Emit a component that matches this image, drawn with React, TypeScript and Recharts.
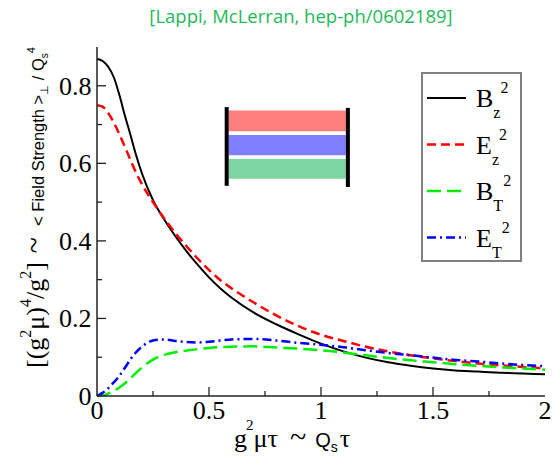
import React from "react";
import { LineChart, Line, XAxis, YAxis, Legend, ReferenceArea } from "recharts";

// tau grid (g^2 mu tau) and the four field-strength curves
const tau = [0, 0.025, 0.05, 0.075, 0.1, 0.125, 0.15, 0.175, 0.2, 0.25, 0.3, 0.35, 0.4, 0.45, 0.5, 0.55, 0.6, 0.7, 0.8, 0.9, 1.0, 1.1, 1.2, 1.3, 1.4, 1.5, 1.6, 1.7, 1.8, 1.9, 2.0];
const bz2 = [0.869, 0.864, 0.849, 0.822, 0.776, 0.722, 0.672, 0.62, 0.575, 0.505, 0.455, 0.412, 0.373, 0.338, 0.306, 0.278, 0.254, 0.215, 0.185, 0.159, 0.135, 0.115, 0.099, 0.087, 0.078, 0.071, 0.066, 0.063, 0.06, 0.058, 0.056];
const ez2 = [0.75, 0.746, 0.73, 0.705, 0.675, 0.642, 0.608, 0.575, 0.547, 0.5, 0.458, 0.42, 0.386, 0.354, 0.325, 0.299, 0.278, 0.241, 0.208, 0.18, 0.158, 0.142, 0.127, 0.115, 0.105, 0.097, 0.09, 0.084, 0.079, 0.075, 0.071];
const bt2 = [0, 0.001, 0.006, 0.013, 0.022, 0.033, 0.046, 0.06, 0.073, 0.094, 0.106, 0.113, 0.117, 0.121, 0.124, 0.126, 0.127, 0.128, 0.125, 0.122, 0.118, 0.112, 0.105, 0.098, 0.092, 0.087, 0.082, 0.078, 0.074, 0.071, 0.068];
const et2 = [0, 0.008, 0.02, 0.035, 0.052, 0.073, 0.095, 0.113, 0.127, 0.143, 0.146, 0.142, 0.139, 0.138, 0.14, 0.143, 0.146, 0.147, 0.143, 0.137, 0.132, 0.126, 0.118, 0.111, 0.105, 0.099, 0.093, 0.089, 0.084, 0.08, 0.077];

const xTicks = [0, 0.25, 0.5, 0.75, 1, 1.25, 1.5, 1.75, 2];
const yTicks = [0, 0.1, 0.2, 0.3, 0.4, 0.5, 0.6, 0.7, 0.8, 0.9];

// little capacitor sketch inside the plot (data units)
const insetBands = [
  { x1: 0.588, x2: 1.111, y1: 0.683, y2: 0.736, fill: "#ff7f7f" },
  { x1: 0.588, x2: 1.111, y1: 0.621, y2: 0.673, fill: "#7f7fff" },
  { x1: 0.588, x2: 1.111, y1: 0.56, y2: 0.611, fill: "#7fd6a5" },
  { x1: 0.57, x2: 0.588, y1: 0.542, y2: 0.745, fill: "#000" },
  { x1: 1.111, x2: 1.129, y1: 0.539, y2: 0.743, fill: "#000" }
];

const chartData = tau.map((t, i) => ({ tau: t, bz: bz2[i], ez: ez2[i], bt: bt2[i], et: et2[i] }));

const SERIF = "'Liberation Serif', 'DejaVu Serif', serif";
const SANS = "'Liberation Sans', Arial, sans-serif";
const FRAME = "#222";

const series = [
  { key: "bz", base: "B", sub: "z", color: "#000000", dash: undefined, width: 2 },
  { key: "ez", base: "E", sub: "z", color: "#ff0000", dash: "9 5", width: 2.5 },
  { key: "bt", base: "B", sub: "T", color: "#00ee00", dash: "14 6", width: 2.5 },
  { key: "et", base: "E", sub: "T", color: "#0000ff", dash: "9 4 2 4", width: 2.5 }
];

const near = (a: number, b: number) => Math.abs(a - b) < 1e-6;
const isMajorX = (v: number) => near(v * 2, Math.round(v * 2));
const isMajorY = (v: number) => near(v * 5, Math.round(v * 5));

const BottomTick = (props: any) => {
  const { x, y, payload } = props;
  const v = payload.value;
  const major = isMajorX(v);
  return (
    <g>
      {v > 0 && v < 2 && (
        <line x1={x} x2={x} y1={y} y2={y - (major ? 9 : 5)} stroke={FRAME} strokeWidth={1.3} />
      )}
      {major && (
        <text x={x} y={y + 23} textAnchor="middle" fontFamily={SERIF} fontSize={26} fill="#000">
          {String(v)}
        </text>
      )}
    </g>
  );
};

const TopTick = (props: any) => {
  const { x, y, payload } = props;
  const v = payload.value;
  if (v <= 0 || v >= 2) return <g />;
  return <line x1={x} x2={x} y1={y} y2={y + (isMajorX(v) ? 9 : 5)} stroke={FRAME} strokeWidth={1.3} />;
};

const LeftTick = (props: any) => {
  const { x, y, payload } = props;
  const v = payload.value;
  const major = isMajorY(v);
  return (
    <g>
      {v > 0 && v < 0.9 && (
        <line x1={x} x2={x + (major ? 9 : 5)} y1={y} y2={y} stroke={FRAME} strokeWidth={1.3} />
      )}
      {major && (
        <text x={x - 5.5} y={y + 9} textAnchor="end" fontFamily={SERIF} fontSize={26} fill="#000">
          {String(v)}
        </text>
      )}
    </g>
  );
};

const RightTick = (props: any) => {
  const { x, y, payload } = props;
  const v = payload.value;
  if (v <= 0 || v >= 0.9) return <g />;
  return <line x1={x} x2={x - (isMajorY(v) ? 9 : 5)} y1={y} y2={y} stroke={FRAME} strokeWidth={1.3} />;
};

const XLabel = (props: any) => {
  const vb = props.viewBox || { x: 97, y: 396, width: 448, height: 61 };
  const x0 = vb.x + 137;
  const y0 = vb.y + 51;
  return (
    <text x={x0} y={y0} fontFamily={SERIF} fontSize={26} fill="#000">
      <tspan>g</tspan>
      <tspan fontSize={15} dy={-17} dx={-1}>2</tspan>
      <tspan dy={17}>μτ</tspan>
      <tspan dx={12} fontSize={30}>~</tspan>
      <tspan dx={9} fontFamily={SANS} fontSize={20}>Q</tspan>
      <tspan fontFamily={SANS} fontSize={14} dy={5}>s</tspan>
      <tspan dy={-5} dx={2}>τ</tspan>
    </text>
  );
};

const YLabel = (props: any) => {
  const vb = props.viewBox || { x: 0, y: 47, width: 97, height: 349 };
  const bx = vb.x + 44;
  const by = vb.y + vb.height - 28;
  return (
    <text x={bx} y={by} transform={`rotate(-90, ${bx}, ${by})`} fontFamily={SERIF} fontSize={26} fill="#000">
      [(g
      <tspan fontSize={16} dy={-13}>2</tspan>
      <tspan dy={13}>μ)</tspan>
      <tspan fontSize={16} dy={-13}>4</tspan>
      <tspan dy={13}>/g</tspan>
      <tspan fontSize={16} dy={-13}>2</tspan>
      <tspan dy={13}>]</tspan>
      <tspan dx={9} fontSize={30}>~</tspan>
      <tspan dx={11} fontFamily={SANS} fontSize={16.5}>{"< Field Strength >"}</tspan>
      <tspan fontFamily={SANS} fontSize={11} dy={4}>⊥</tspan>
      <tspan fontFamily={SANS} fontSize={16.5} dy={-4}>{" / Q"}</tspan>
      <tspan fontFamily={SANS} fontSize={10} dy={4}>s</tspan>
      <tspan fontFamily={SANS} fontSize={11} dy={-13}>4</tspan>
    </text>
  );
};

const LegendBox = () => (
  <svg width={101} height={190} style={{ display: "block" }}>
    <rect x={1} y={1} width={99} height={188} fill="#fff" stroke="#808080" strokeWidth={2} />
    {series.map((s, i) => {
      const cy = 26 + i * 46.5;
      return (
        <g key={s.key}>
          <line x1={6} x2={45} y1={cy} y2={cy} stroke={s.color} strokeWidth={s.width} strokeDasharray={s.dash} />
          <text x={55} y={cy + 9} fontFamily={SERIF} fontSize={26} fill="#000">
            {s.base}
            <tspan fontSize={16} dy={11}>{s.sub}</tspan>
            <tspan fontSize={16} dy={-25}>2</tspan>
          </text>
        </g>
      );
    })}
  </svg>
);

export default function App() {
  return (
    <div style={{ position: "absolute", left: 0, top: 0, width: 552, height: 457, background: "#fff" }}>
      <div
        style={{
          position: "absolute",
          left: 0,
          top: 3,
          width: 602,
          textAlign: "center",
          fontFamily: "'Open Sans', sans-serif",
          fontSize: 18.5,
          color: "#1fb85a",
          whiteSpace: "nowrap"
        }}
      >
        [Lappi, McLerran, hep-ph/0602189]
      </div>
      <LineChart width={552} height={457} data={chartData} margin={{ top: 47, right: 7, bottom: 0, left: 0 }}>
        <XAxis
          xAxisId="bottom"
          dataKey="tau"
          type="number"
          domain={[0, 2]}
          ticks={xTicks}
          interval={0}
          height={61}
          tickSize={0}
          tickMargin={0}
          tickLine={false}
          tick={BottomTick}
          axisLine={{ stroke: FRAME, strokeWidth: 1.5 }}
          label={{ content: XLabel }}
        />
        <XAxis
          xAxisId="top"
          orientation="top"
          dataKey="tau"
          type="number"
          domain={[0, 2]}
          ticks={xTicks}
          interval={0}
          height={0}
          tickSize={0}
          tickMargin={0}
          tickLine={false}
          tick={TopTick}
          axisLine={{ stroke: FRAME, strokeWidth: 1.5 }}
        />
        <YAxis
          yAxisId="left"
          type="number"
          domain={[0, 0.9]}
          ticks={yTicks}
          interval={0}
          width={97}
          tickSize={0}
          tickMargin={0}
          tickLine={false}
          tick={LeftTick}
          axisLine={{ stroke: FRAME, strokeWidth: 1.5 }}
          label={{ content: YLabel }}
        />
        <YAxis
          yAxisId="right"
          orientation="right"
          type="number"
          domain={[0, 0.9]}
          ticks={yTicks}
          interval={0}
          width={0}
          tickSize={0}
          tickMargin={0}
          tickLine={false}
          tick={RightTick}
          axisLine={{ stroke: FRAME, strokeWidth: 1.5 }}
        />
        {insetBands.map((b, i) => (
          <ReferenceArea
            key={i}
            xAxisId="bottom"
            yAxisId="left"
            x1={b.x1}
            x2={b.x2}
            y1={b.y1}
            y2={b.y2}
            fill={b.fill}
            fillOpacity={1}
            stroke="none"
          />
        ))}
        <Line
          xAxisId="top"
          yAxisId="right"
          dataKey="bz"
          stroke="none"
          dot={false}
          activeDot={false}
          legendType="none"
          isAnimationActive={false}
        />
        {series.map((s) => (
          <Line
            key={s.key}
            xAxisId="bottom"
            yAxisId="left"
            type="monotone"
            dataKey={s.key}
            stroke={s.color}
            strokeWidth={s.width}
            strokeDasharray={s.dash}
            dot={false}
            activeDot={false}
            isAnimationActive={false}
          />
        ))}
        <Legend
          layout="vertical"
          align="center"
          verticalAlign="middle"
          content={LegendBox}
          wrapperStyle={{ left: 421, top: 72, width: 101, height: 190, bottom: "auto", right: "auto" }}
        />
      </LineChart>
    </div>
  );
}
